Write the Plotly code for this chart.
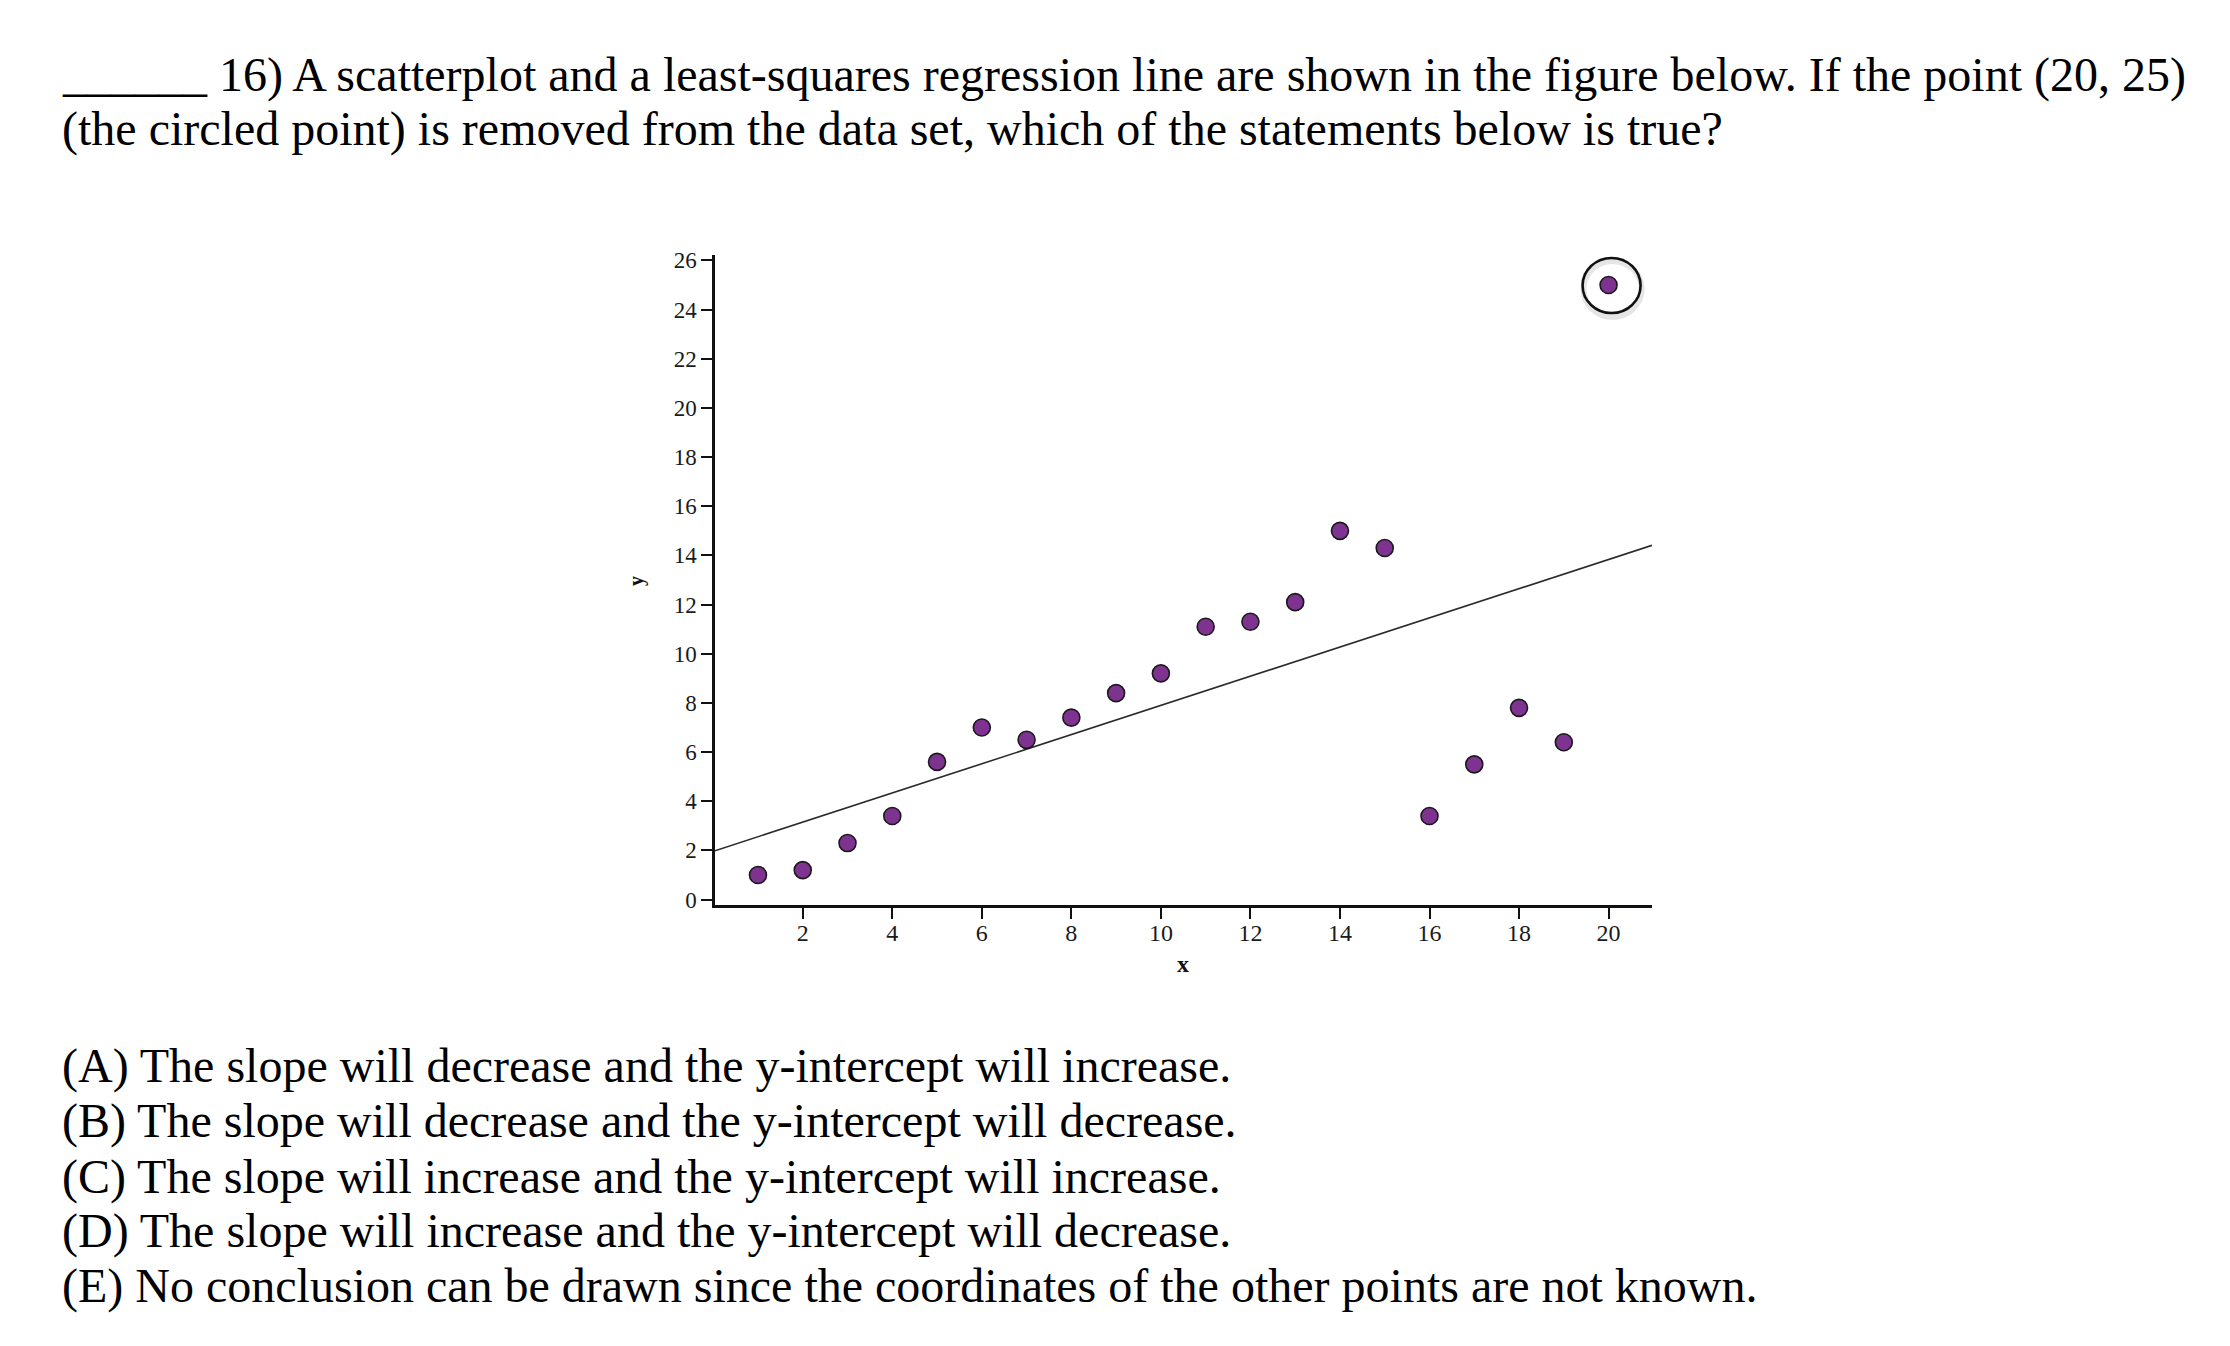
import numpy as np
import plotly.graph_objects as go

# ---- data ----
x_vals = [1, 2, 3, 4, 5, 6, 7, 8, 9, 10, 11, 12, 13, 14, 15, 16, 17, 18, 19, 20]
y_vals = [1.0, 1.2, 2.3, 3.4, 5.6, 7.0, 6.5, 7.4, 8.4, 9.2,
          11.1, 11.3, 12.1, 15.0, 14.3, 3.4, 5.5, 7.8, 6.4, 25.0]
circled_point = (20, 25)
x_ticks = [2, 4, 6, 8, 10, 12, 14, 16, 18, 20]
y_ticks = [0, 2, 4, 6, 8, 10, 12, 14, 16, 18, 20, 22, 24, 26]
x_range = [0.04, 20.97]
y_range = [-0.22, 26.22]

question_lines = [
    "______ 16) A scatterplot and a least-squares regression line are shown in the figure below. If the point (20, 25)",
    "(the circled point) is removed from the data set, which of the statements below is true?",
]
options = [
    "(A) The slope will decrease and the y-intercept will increase.",
    "(B) The slope will decrease and the y-intercept will decrease.",
    "(C) The slope will increase and the y-intercept will increase.",
    "(D) The slope will increase and the y-intercept will decrease.",
    "(E) No conclusion can be drawn since the coordinates of the other points are not known.",
]

# ---- layout geometry (pixels) ----
W, H = 2230, 1346
L, R, T, B = 715, 1652, 255, 905
SERIF = "Liberation Serif, Times New Roman, serif"


def px(x):
    return (x - L) / (R - L)


def py(y):
    return (B - y) / (B - T)


slope, intercept = np.polyfit(x_vals, y_vals, 1)
line_x = np.array(x_range)
line_y = slope * line_x + intercept

fig = go.Figure()
fig.add_trace(go.Scatter(
    x=line_x, y=line_y, mode="lines",
    line=dict(color="#2a2a2a", width=1.6), hoverinfo="skip", showlegend=False,
))
fig.add_trace(go.Scatter(
    x=x_vals, y=y_vals, mode="markers",
    marker=dict(size=17, color="#7e3391", line=dict(color="#1a1a1a", width=1.6)),
    showlegend=False,
))

# circle around the removed point (soft shadow + ring)
cx, cy = circled_point
fig.add_shape(type="circle", xref="x", yref="y", xsizemode="pixel", ysizemode="pixel",
              xanchor=cx, yanchor=cy, x0=-25, x1=33, y0=-32, y1=24,
              line=dict(color="rgba(0,0,0,0.10)", width=6), layer="below")
fig.add_shape(type="circle", xref="x", yref="y", xsizemode="pixel", ysizemode="pixel",
              xanchor=cx, yanchor=cy, x0=-26, x1=32, y0=-28, y1=27,
              line=dict(color="#111111", width=2.6))

annotations = []
# question text
for txt, yb in zip(question_lines, [90, 144]):
    annotations.append(dict(
        text=txt, xref="paper", yref="paper", x=px(60), y=py(yb - 15),
        xanchor="left", yanchor="middle", showarrow=False,
        font=dict(family=SERIF, size=48, color="#000000"),
    ))
# options
for txt, yb in zip(options, [1081, 1136, 1192, 1246, 1301]):
    annotations.append(dict(
        text=txt, xref="paper", yref="paper", x=px(60), y=py(yb - 15),
        xanchor="left", yanchor="middle", showarrow=False,
        font=dict(family=SERIF, size=48, color="#000000"),
    ))
# axis titles
annotations.append(dict(
    text="<b>y</b>", xref="paper", yref="paper", x=px(636), y=py(581),
    xanchor="center", yanchor="middle", textangle=-90, showarrow=False,
    font=dict(family=SERIF, size=20, color="#111111"),
))
annotations.append(dict(
    text="<b>x</b>", xref="paper", yref="paper", x=px(1183), y=py(964),
    xanchor="center", yanchor="middle", showarrow=False,
    font=dict(family=SERIF, size=24, color="#111111"),
))

fig.update_layout(
    width=W, height=H,
    margin=dict(l=L, r=W - R, t=T, b=H - B, pad=0),
    paper_bgcolor="white", plot_bgcolor="white",
    annotations=annotations,
    xaxis=dict(
        range=x_range, tickmode="array", tickvals=x_ticks, ticktext=[str(v) for v in x_ticks],
        showgrid=False, zeroline=False, showline=True, linecolor="#111111", linewidth=2.5,
        ticks="outside", ticklen=11, tickwidth=2, tickcolor="#111111",
        ticklabelstandoff=-7,
        tickfont=dict(family=SERIF, size=24, color="#1a1a1a"),
    ),
    yaxis=dict(
        range=y_range, tickmode="array", tickvals=y_ticks, ticktext=[str(v) for v in y_ticks],
        showgrid=False, zeroline=False, showline=True, linecolor="#111111", linewidth=2.5,
        ticks="outside", ticklen=11, tickwidth=2, tickcolor="#111111",
        tickfont=dict(family=SERIF, size=23, color="#1a1a1a"),
    ),
)

fig.write_html("out.html")
